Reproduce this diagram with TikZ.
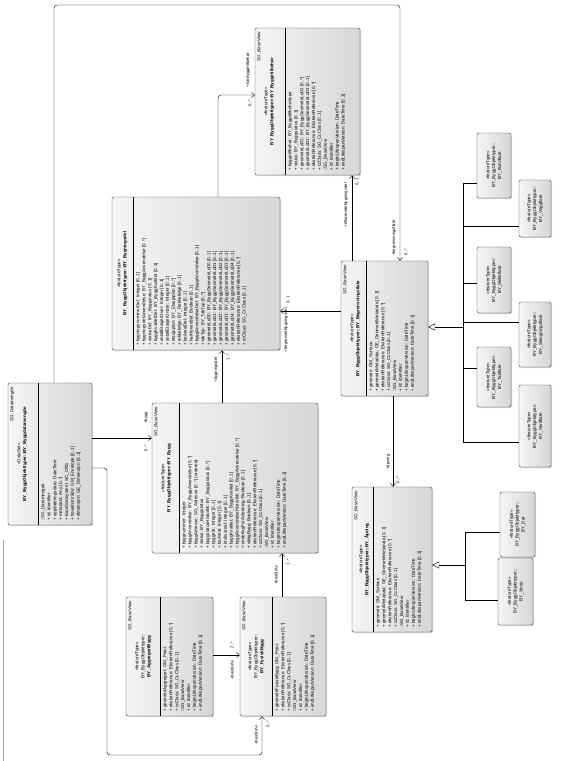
\documentclass[tikz,border=0pt]{standalone}
\usepackage{fontspec}
\setmainfont{Liberation Sans}
\usepackage{graphicx}
\usetikzlibrary{arrows.meta,positioning,shadows}

\newcommand{\umlfont}{\fontsize{4.5}{5.9}\selectfont}

\tikzset{
  classbox/.style={draw=black!75, rounded corners=2pt, left color=black!4, right color=black!16, inner sep=0pt, drop shadow={opacity=0.35, shadow xshift=1pt, shadow yshift=-1pt}},
  smallbox/.style={classbox, align=center, font=\umlfont},
  basename/.style={rotate=90, anchor=north east, inner sep=0pt, font=\umlfont\itshape},
  hdr/.style={rotate=90, anchor=north, inner sep=0pt, align=center, font=\umlfont},
  attrs/.style={rotate=90, anchor=north west, inner sep=0pt, align=left, font=\umlfont},
  assoc/.style={draw, rounded corners=3pt, -{Straight Barb[length=3pt,width=5pt]}},
  gen/.style={draw, -{Triangle[open,length=7pt,width=7pt]}},
  link/.style={draw},
  role/.style={rotate=90, inner sep=0.5pt, font=\fontsize{4.2}{4.6}\selectfont},
}

\begin{document}
\begin{tikzpicture}[x=1pt, y=-1pt]
\useasboundingbox (0,0) rectangle (568,761);

% panel edge at the left
\draw[black!35] (3,540) -- (3,761);

% Byggetilbehoer class
\node[classbox, minimum width=105pt, minimum height=147pt] (A) at (307.5,101.5) {};
\draw (285,28) -- (285,175);
\node[basename] (Abase) at (257,32) {SG\_BaseView};
\node[hdr] (Ahdr) at (264,101.5) {«featureType»\\\textbf{BY\_ByggObjekttyper::BY\_Byggetilbehør}};
\node[attrs] (Aattr) at (288,171) {+\ byggetilbehør: BY\_Byggetilbehørtype\\+\ status: BY\_Byggstatus [0..1]\\+\ geometriLoD2: BY\_ByggGeometriLoD2 [0..*]\\+\ geometriLoD3: BY\_ByggGeometriLoD3 [0..1]\\+\ eksternReferanse: EksternReferanse [0..*]\\+\ ccClass: SG\_CcClass [0..1]\\::SG\_BaseView\\+\ id: Identifier\\+\ beginLifespanVersion: DateTime\\+\ endLifespanVersion: DateTime [0..1]};

% Bygningsdel class
\node[classbox, minimum width=168pt, minimum height=153pt] (B) at (196,273.5) {};
\draw (133,197) -- (133,350);
\node[hdr] (Bhdr) at (117,273.5) {«featureType»\\\textbf{BY\_ByggObjekttyper::BY\_Bygningsdel}};
\node[attrs] (Battr) at (136,346) {+\ bygningsnummerDel: Integer [0..1]\\+\ bygningsdelAnvendelse: BY\_ByggAnvendelse [0..*]\\+\ statusDel: BY\_Byggstatus [0..1]\\+\ byggKvalitetDel: BY\_ByggKvalitet [0..1]\\+\ antallEtasjerOver: Integer [0..1]\\+\ antallEtasjerUnder: Integer [0..1]\\+\ etasjeplan: BY\_Etasjeplan [0..*]\\+\ rekkefølge: BY\_Rekkefølge [0..1]\\+\ boArealDel: Integer [0..1]\\+\ harHoveddel: Boolean [0..1]\\+\ byggAnvendelseDel: BY\_ByggAnvendelse [0..1]\\+\ takTyp: BY\_TakTyp [0..*]\\+\ geometriLoD0: BY\_ByggGeometriLoD0 [0..1]\\+\ geometriLoD1: BY\_ByggGeometriLoD1 [0..1]\\+\ geometriLoD2: BY\_ByggGeometriLoD2 [0..1]\\+\ geometriLoD3: BY\_ByggGeometriLoD3 [0..1]\\+\ geometriLoD4: BY\_ByggGeometriLoD4 [0..1]\\+\ eksternReferanse: EksternReferanse [0..*]\\+\ ccClass: SG\_CcClass [0..1]};

% Datamengde class
\node[classbox, minimum width=84pt, minimum height=142pt] (C) at (50,454) {};
\draw (38,383) -- (38,525);
\node[basename] (Cbase) at (10,387) {SG\_Datamengde};
\node[hdr] (Chdr) at (17,454) {«DataSet»\\\textbf{BY\_ByggObjekttyper::BY\_Byggdatamengde}};
\node[attrs] (Cattr) at (41,521) {::SG\_Datamengde\\+\ id: Identifier\\+\ oppdateringsdato: DateTime\\+\ metadata: Any [0..*]\\+\ koordinatsystem: SC\_CRS\\+\ hovedområde: GM\_Envelope [0..1]\\+\ dimensjon: GE\_Dimensjon [0..1]};

% Bygg class
\node[classbox, minimum width=166pt, minimum height=150pt] (D) at (235,478) {};
\draw (179,403) -- (179,553);
\node[basename] (Dbase) at (154,407) {SG\_BaseView};
\node[hdr] (Dhdr) at (161,478) {«featureType»\\\textbf{BY\_ByggObjekttyper::BY\_Bygg}};
\node[attrs] (Dattr) at (182,549) {+\ byggnummer: Integer\\+\ byggAnvendelse: BY\_ByggAnvendelse [0..*]\\+\ byggAdresse: SG\_Adresse [0..*] \{ordered\}\\+\ status: BY\_Byggstatus\\+\ byggstatusHistorikk: BY\_Byggstatus [0..*]\\+\ byggeår: Integer [0..1]\\+\ boAreal: Integer [0..1]\\+\ bruksareal: Integer [0..1]\\+\ byggKvalitet: BY\_ByggKvalitet [0..1]\\+\ byggAnvendelseHistorikk: BY\_ByggAnvendelse [0..*]\\+\ underlagForAvledning: Boolean [0..1]\\+\ viktigBygg: Boolean [0..1]\\+\ eksternReferanse: EksternReferanse [0..*]\\+\ ccClass: SG\_CcClass [0..1]\\::SG\_BaseView\\+\ id: Identifier\\+\ beginLifespanVersion: DateTime\\+\ endLifespanVersion: DateTime [0..1]};

% Begrensningsflate class
\node[classbox, minimum width=87pt, minimum height=135pt] (E) at (384.5,328.5) {};
\draw (366,261) -- (366,396);
\node[basename] (Ebase) at (343,265) {SG\_BaseView};
\node[hdr] (Ehdr) at (350,328.5) {«featureType»\\\textbf{BY\_ByggObjekttyper::BY\_Begrensningsflate}};
\node[attrs] (Eattr) at (369,392) {+\ geometri: GM\_Surface\\+\ geometriMetadata: GE\_GeometriMetadata [0..1]\\+\ eksternReferanse: EksternReferanse [0..*]\\+\ ccClass: SG\_CcClass [0..1]\\::SG\_BaseView\\+\ id: Identifier\\+\ beginLifespanVersion: DateTime\\+\ endLifespanVersion: DateTime [0..1]};

% FysiskBygg class
\node[classbox, minimum width=86pt, minimum height=119pt] (F) at (283,656.5) {};
\draw (272,597) -- (272,716);
\node[basename] (Fbase) at (242,601) {SG\_BaseView};
\node[hdr] (Fhdr) at (248,656.5) {«featureType»\\BY\_ByggObjekttyper::\\\textbf{BY\_FysiskBygg}};
\node[attrs] (Fattr) at (275,712) {+\ geometriFysiskBygg: GM\_Point\\+\ eksternReferanse: EksternReferanse [0..*]\\+\ ccClass: SG\_CcClass [0..1]\\::SG\_BaseView\\+\ id: Identifier\\+\ beginLifespanVersion: DateTime\\+\ endLifespanVersion: DateTime [0..1]};

% AggregertBygg class
\node[classbox, minimum width=87pt, minimum height=119pt] (G) at (169.5,656.5) {};
\draw (160,597) -- (160,716);
\node[basename] (Gbase) at (128,601) {SG\_BaseView};
\node[hdr] (Ghdr) at (135,656.5) {«featureType»\\BY\_ByggObjekttyper::\\\textbf{BY\_AggregertBygg}};
\node[attrs] (Gattr) at (163,712) {+\ geometriAggregert: GM\_Point\\+\ eksternReferanse: EksternReferanse [0..*]\\+\ ccClass: SG\_CcClass [0..1]\\::SG\_BaseView\\+\ id: Identifier\\+\ beginLifespanVersion: DateTime\\+\ endLifespanVersion: DateTime [0..1]};

% Aapning class
\node[classbox, minimum width=80pt, minimum height=145pt] (H) at (392,559.5) {};
\draw (373,487) -- (373,632);
\node[basename] (Hbase) at (354,491) {SG\_BaseView};
\node[hdr] (Hhdr) at (359,559.5) {«featureType»\\\textbf{BY\_ByggObjekttyper::BY\_Åpning}};
\node[attrs] (Hattr) at (376,628) {+\ geometri: GM\_Surface\\+\ geometriMetadata: GE\_GeometriMetadata [0..1]\\+\ eksternReferanse: EksternReferanse [0..*]\\+\ ccClass: SG\_CcClass [0..1]\\::SG\_BaseView\\+\ id: Identifier\\+\ beginLifespanVersion: DateTime\\+\ endLifespanVersion: DateTime [0..1]};

% subtypes of Begrensningsflate
\node[smallbox, minimum width=34pt, minimum height=65pt] (S1) at (494,165.5) {\rotatebox{90}{\begin{tabular}{@{}c@{}}«featureType»\\BY\_ByggObjekttyper::\\BY\_Bunnflate\end{tabular}}};
\node[smallbox, minimum width=32pt, minimum height=57pt] (S2) at (535,208.5) {\rotatebox{90}{\begin{tabular}{@{}c@{}}«featureType»\\BY\_ByggObjekttyper::\\BY\_Veggflate\end{tabular}}};
\node[smallbox, minimum width=34pt, minimum height=66pt] (S3) at (494,280) {\rotatebox{90}{\begin{tabular}{@{}c@{}}«featureType»\\BY\_ByggObjekttyper::\\BY\_Skilleflate\end{tabular}}};
\node[smallbox, minimum width=32pt, minimum height=65pt] (S4) at (535,334.5) {\rotatebox{90}{\begin{tabular}{@{}c@{}}«featureType»\\BY\_ByggObjekttyper::\\BY\_Stengningsflate\end{tabular}}};
\node[smallbox, minimum width=34pt, minimum height=60pt] (S5) at (494,377) {\rotatebox{90}{\begin{tabular}{@{}c@{}}«featureType»\\BY\_ByggObjekttyper::\\BY\_Takflate\end{tabular}}};
\node[smallbox, minimum width=32pt, minimum height=82pt] (S6) at (535,426) {\rotatebox{90}{\begin{tabular}{@{}c@{}}«featureType»\\BY\_ByggObjekttyper::\\BY\_Skråflate\end{tabular}}};

% subtypes of Aapning
\node[smallbox, minimum width=35pt, minimum height=65pt] (I1) at (517.5,524.5) {\rotatebox{90}{\begin{tabular}{@{}c@{}}«featureType»\\BY\_ByggObjekttyper::\\BY\_Dør\end{tabular}}};
\node[smallbox, minimum width=35pt, minimum height=67pt] (I2) at (515.5,591.5) {\rotatebox{90}{\begin{tabular}{@{}c@{}}«featureType»\\BY\_ByggObjekttyper::\\BY\_Vindu\end{tabular}}};

% generalisation trees
\coordinate (t1) at (463,327);
\draw[gen] (t1) -- (E.east |- t1);
\draw[link] (S1.west |- 0,183) -| (463,442) -- (S6.west |- 0,442);
\draw[link] (463,226) -- (S2.west |- 0,226);
\draw[link] (463,283) -- (S3.west |- 0,283);
\draw[link] (463,322) -- (S4.west |- 0,322);
\draw[link] (463,368) -- (S5.west |- 0,368);
\coordinate (t2) at (465,565);
\draw[gen] (t2) -- (H.east |- t2);
\draw[link] (I1.west |- 0,532) -| (465,600) -- (I2.west |- 0,600);

% associations
\draw[assoc] (C.north -| 54,0) |- (400,5) -- (E.north -| 400,0);
\node[role] at (394,238) {+begrensningsflate};
\node[role] at (406,252) {0..*};
\draw[assoc] (C.east |- 0,438) -- (D.west |- 0,438);
\node[role] at (146,418) {+bygg};
\node[role] at (146,448) {0..*};
\draw[assoc] (C.east |- 0,468) -| (107,755) -| (F.south -| 262,0);
\node[role] at (256,735) {+bestårAv};
\node[role] at (268,724) {0..*};
\draw[assoc] (G.east |- 0,655) -- (F.west |- 0,655);
\node[role] at (232,670) {+bestårAv};
\node[role] at (232,645) {2..*};
\draw[assoc] (F.north -| 282,0) -- (D.south -| 282,0);
\node[role] at (276,575) {+bestårAv};
\node[role] at (288,562) {1..*};
\draw[assoc] (D.north -| 222,0) -- (B.south -| 222,0);
\node[role] at (216,370) {+bygningsdel};
\node[role] at (228,357) {1..*};
\draw[assoc] (E.west |- 0,311) -- (B.east |- 0,311);
\node[role] at (286,330) {+begrensetBygningsdel};
\node[role] at (288,300) {0..1};
\draw[assoc] (B.north -| 218,0) |- (A.west |- 0,95);
\node[role] at (248,70) {+harByggetilbehør};
\node[role] at (250,103) {0..*};
\draw[assoc] (E.north -| 352,0) -- (A.south -| 352,0);
\node[role] at (346,205) {+tilhørendeBygningsdel};
\node[role] at (357,182) {0..1};
\draw[assoc] (E.south -| 393,0) -- (H.north -| 393,0);
\node[role] at (388,462) {+åpning};
\node[role] at (398,480) {0..*};
\end{tikzpicture}
\end{document}
